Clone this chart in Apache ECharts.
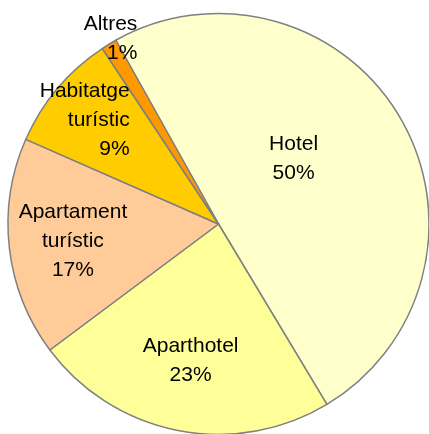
<!DOCTYPE html>
<html lang="ca" style="height: 100%">
<head>
  <meta charset="utf-8">
</head>
<body style="height: 100%; margin: 0; background: #fff">
  <div id="container" style="width: 429px; height: 434px"></div>
  <script type="text/javascript" src="https://cdn.jsdelivr.net/npm/echarts@6/dist/echarts.min.js"></script>
  <script type="text/javascript">
    // tipus d'allotjament i percentatge
    var categories = ['Hotel', 'Aparthotel', 'Apartament turístic', 'Habitatge turístic', 'Altres'];
    var shares = [49.5, 23.4, 16.8, 9.1, 1.2];
    var colors = ['#FFFFCC', '#FFFF99', '#FFCC99', '#FFCC00', '#FF9900'];

    // posicio de cada etiqueta respecte el punt "inside"
    var labelTweaks = [
      { offset: [-18.6, -10.8], align: 'c' },
      { offset: [-7, 30.5], align: 'c' },
      { offset: [-38, 5], align: 'c' },
      { offset: [-51, -34.2], align: 'r' },
      { offset: [-51.7, -93], align: 'r' }
    ];

    var dom = document.getElementById('container');
    var myChart = echarts.init(dom, null, { renderer: 'canvas' });

    var txt = {
      color: '#000',
      fontFamily: 'Liberation Sans, Arial, sans-serif',
      fontSize: 21,
      lineHeight: 29
    };

    var data = [];
    for (var i = 0; i < categories.length; i++) {
      data.push({
        name: categories[i],
        value: shares[i],
        itemStyle: { color: colors[i] },
        label: { offset: labelTweaks[i].offset }
      });
    }

    var option = {
      animation: false,
      backgroundColor: '#ffffff',
      series: [{
        type: 'pie',
        center: [218.5, 224],
        radius: 210.5,
        startAngle: 119.2,
        clockwise: true,
        silent: true,
        itemStyle: {
          borderColor: '#808080',
          borderWidth: 1.5
        },
        label: {
          show: true,
          position: 'inside',
          color: txt.color,
          fontFamily: txt.fontFamily,
          fontSize: txt.fontSize,
          lineHeight: txt.lineHeight,
          formatter: function (p) {
            var al = labelTweaks[p.dataIndex].align;
            var lines = p.name.split(' ');
            lines.push(Math.round(p.percent) + '%');
            return lines.map(function (s) { return '{' + al + '|' + s + '}'; }).join('\n');
          },
          rich: {
            c: { align: 'center', color: txt.color, fontFamily: txt.fontFamily, fontSize: txt.fontSize, lineHeight: txt.lineHeight },
            r: { align: 'right', color: txt.color, fontFamily: txt.fontFamily, fontSize: txt.fontSize, lineHeight: txt.lineHeight }
          }
        },
        labelLine: { show: false },
        data: data
      }]
    };

    myChart.setOption(option);
  </script>
</body>
</html>
